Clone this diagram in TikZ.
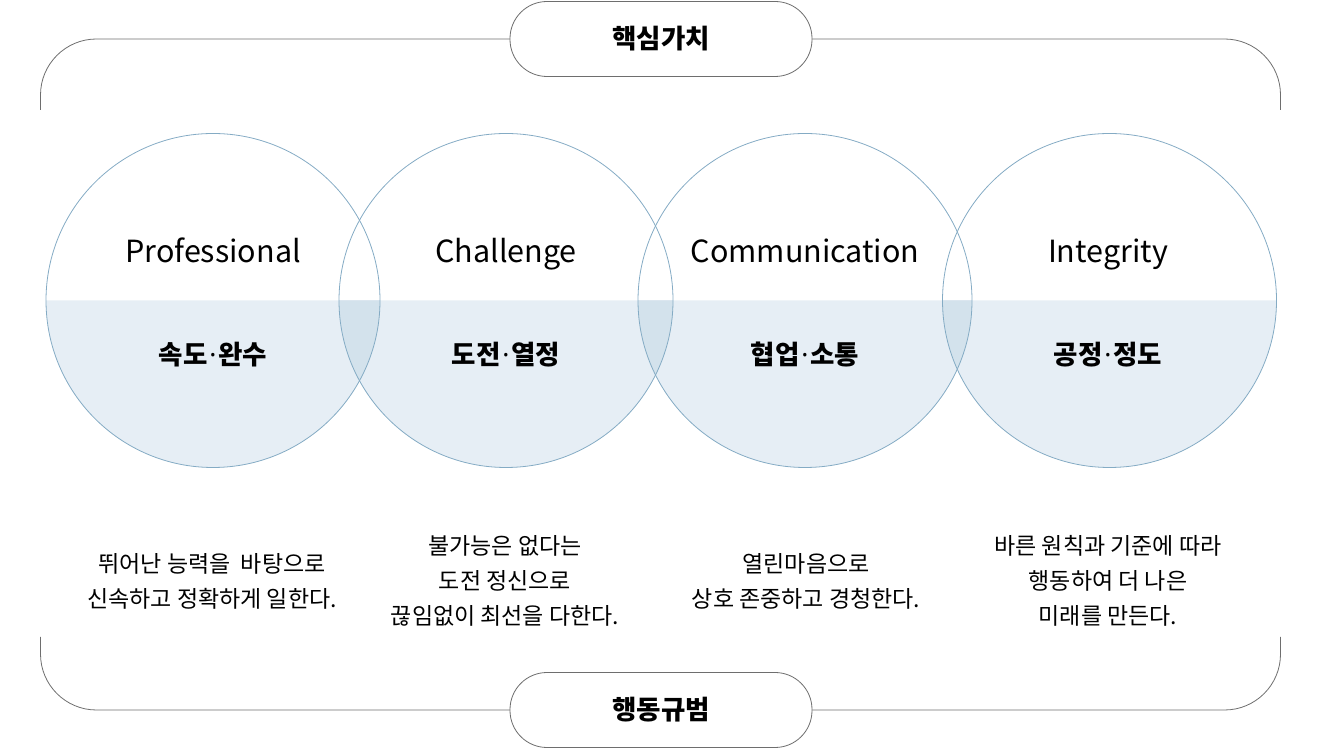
\documentclass[tikz,border=0pt]{standalone}
\usepackage{fontspec}
\setmainfont{Noto Sans CJK KR}
\newfontfamily\dotfont{Noto Sans}
\newcommand\middot{{\kern2pt\dotfont ·\kern2pt}}
\definecolor{ringblue}{HTML}{84ABC4}
\definecolor{halfblue}{HTML}{E6EEF5}
\definecolor{overblue}{HTML}{D3E2EC}
\definecolor{framegray}{HTML}{6E6E6E}
\tikzset{
  frame/.style={draw=framegray, line width=0.8pt},
  pill/.style={frame, fill=white, rounded corners=37pt, minimum width=302pt,
    minimum height=75pt, font=\fontsize{26.5}{30}\selectfont\bfseries},
  ring/.style={draw=ringblue, line width=0.8pt, circle, minimum size=334pt, inner sep=0pt},
  title/.style={anchor=base, font=\fontsize{30.5}{34}\selectfont},
  value/.style={font=\fontsize{26.5}{30}\selectfont\bfseries},
  desc/.style={align=center, font=\fontsize{23}{35}\selectfont},
}
\begin{document}
\begin{tikzpicture}[x=1pt,y=1pt]
  \useasboundingbox (0,0) rectangle (1324,749);
  % lower halves
  \foreach \cx in {213,506,805,1109.5}
    \fill[halfblue] (\cx-167,448.5) arc (180:360:167) -- cycle;
  % overlaps
  \foreach \ca/\cb in {213/506,506/805,805/1109.5}{
    \begin{scope}
      \clip (\ca-167,448.5) arc (180:360:167) -- cycle;
      \fill[overblue] (\cb-167,448.5) arc (180:360:167) -- cycle;
    \end{scope}
  }
  % frame
  \draw[frame] (40.5,639) -- (40.5,654) arc (180:90:56) -- (1224.5,710)
    arc (90:0:56) -- (1280.5,639);
  \draw[frame] (40.5,112) -- (40.5,95) arc (180:270:56) -- (1224.5,39)
    arc (270:360:56) -- (1280.5,112);
  \node[pill] (core) at (661,710) {핵심가치};
  \node[pill] (rule) at (661,39) {행동규범};
  % circles
  \node[ring] (pro) at (213,448.5) {};
  \node[ring] (cha) at (506,448.5) {};
  \node[ring] (com) at (805,448.5) {};
  \node[ring] (int) at (1109.5,448.5) {};
  \node[title] (proname) at (213,486) {Professional};
  \node[title] (chaname) at (506,486) {Challenge};
  \node[title] (comname) at (805,486) {Communication};
  \node[title] (intname) at (1108,486) {Integrity};
  \node[value] (proval) at (213,394) {속도\middot 완수};
  \node[value] (chaval) at (506,394) {도전\middot 열정};
  \node[value] (comval) at (805,394) {협업\middot 소통};
  \node[value] (intval) at (1108,394) {공정\middot 정도};
  % texts
  \node[desc] (protext) at (212,168) {뛰어난 능력을~ 바탕으로\\신속하고 정확하게 일한다.};
  \node[desc] (chatext) at (505,168) {불가능은 없다는\\도전 정신으로\\끊임없이 최선을 다한다.};
  \node[desc] (comtext) at (806,168) {열린마음으로\\상호 존중하고 경청한다.};
  \node[desc] (inttext) at (1108,168) {바른 원칙과 기준에 따라\\행동하여 더 나은\\미래를 만든다.};
\end{tikzpicture}
\end{document}
